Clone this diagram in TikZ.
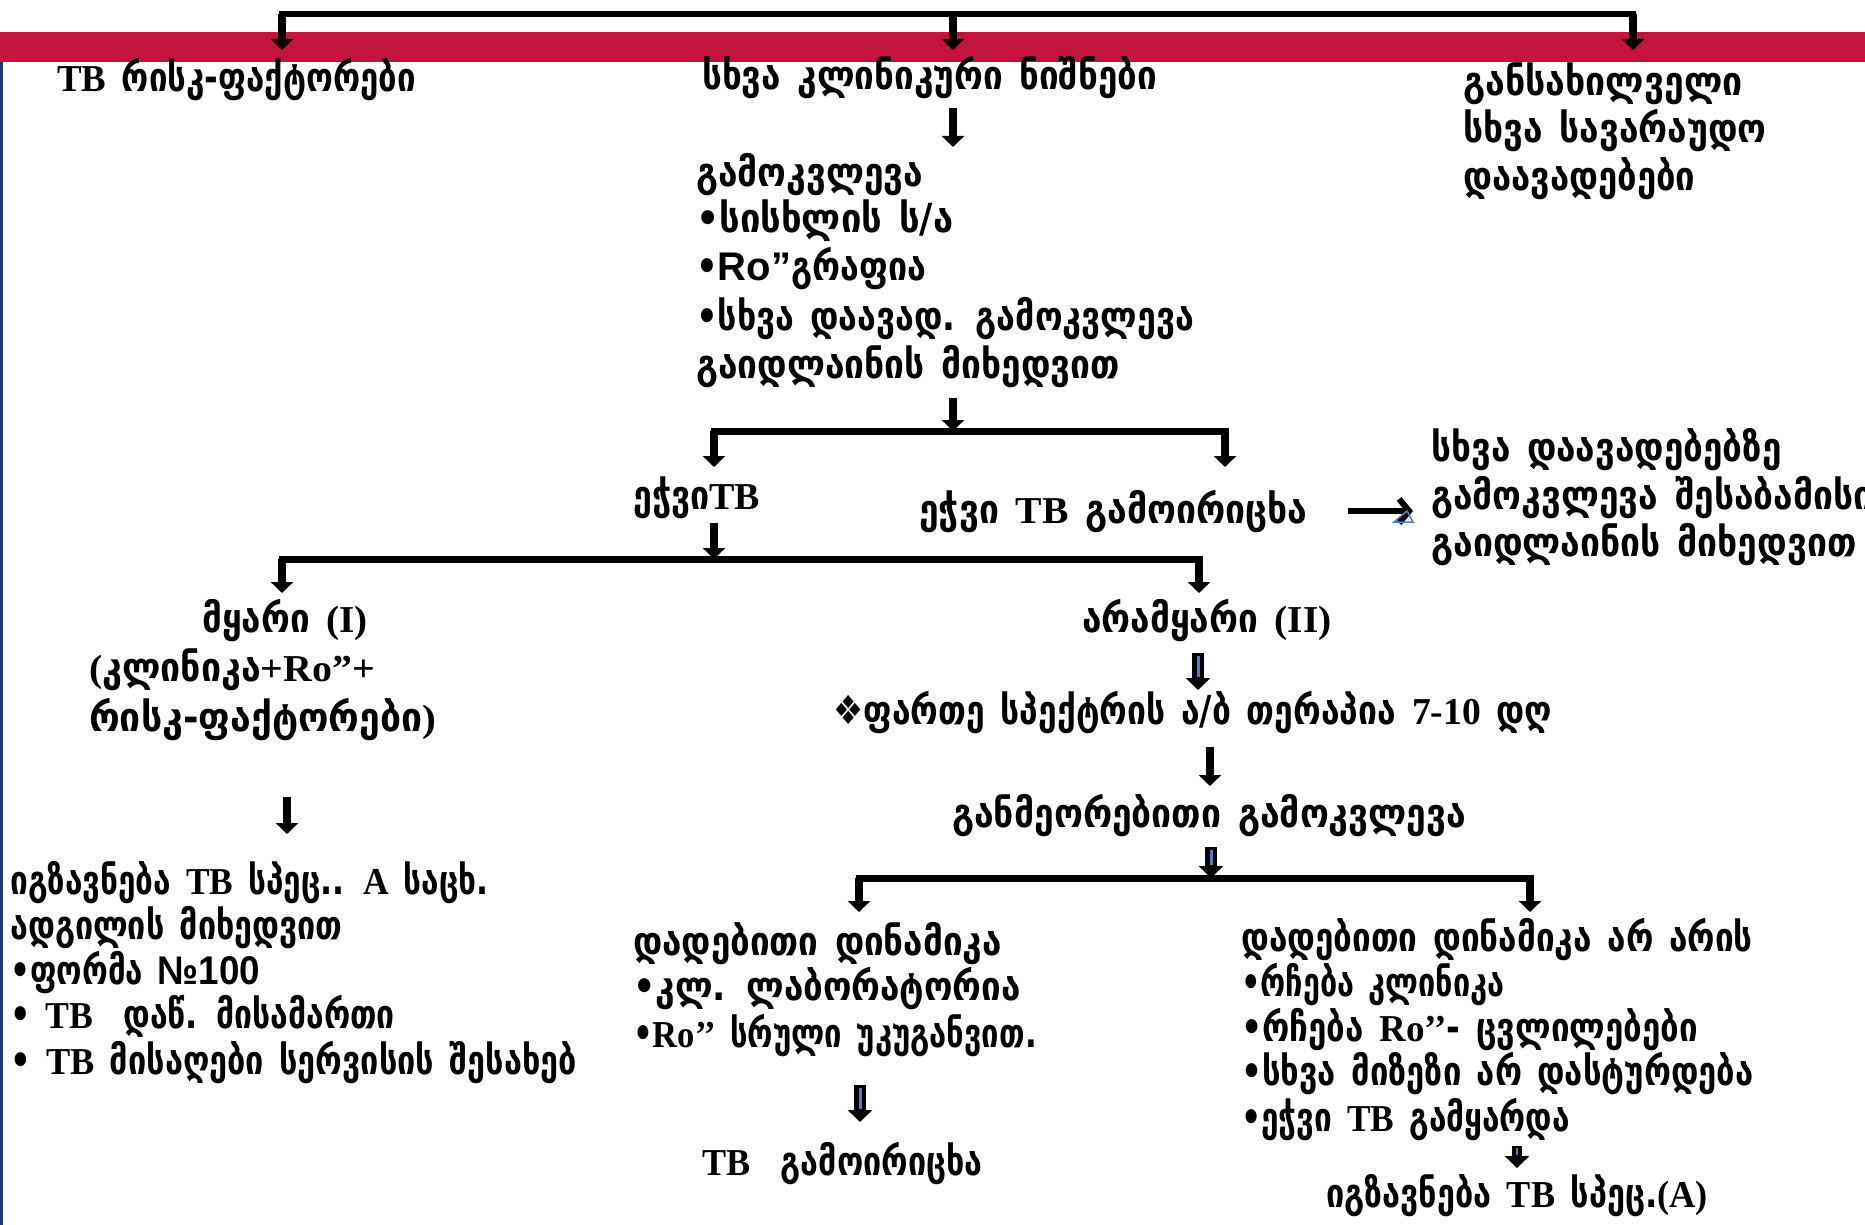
\documentclass[tikz,border=0pt]{standalone}
\usepackage{fontspec}
\usepackage{graphicx}
\setmainfont{Liberation Serif}
\newfontfamily\gf{DejaVu Sans}[FakeStretch=0.85]
\newfontfamily\lf{Liberation Serif}
\newfontfamily\af{Liberation Sans}
\usetikzlibrary{arrows.meta}
\definecolor{bandred}{HTML}{C4133D}
\definecolor{navy}{HTML}{1F3A78}
\definecolor{stripe}{HTML}{4A7FC0}
\newcommand{\tb}[1]{{\lf\bfseries\fontsize{38}{47}\selectfont #1}}
\newcommand{\asf}[1]{{\af\bfseries\fontsize{40}{47}\selectfont #1}}
\newcommand{\hs}[2]{\scalebox{#1}[1]{#2}}
\newcommand{\gsetup}{\gf\bfseries\fontsize{40}{47}\selectfont\setlength{\spaceskip}{16pt plus 2pt minus 2pt}}
\tikzset{
  txt/.style={anchor=base west, inner sep=0pt, font=\gsetup},
  arr/.style={line width=8pt, -{Triangle[width=22pt,length=11pt]}},
  barline/.style={line width=7pt, line cap=rect},
  topbar/.style={line width=6pt, line cap=rect},
  fatarr/.style={line width=12pt, -{Triangle[width=24pt,length=12pt]}},
  stripeline/.style={stripe, line width=3pt, shorten >=13pt, shorten <=3pt},
}
\begin{document}
\begin{tikzpicture}[x=1pt,y=-1pt]
\useasboundingbox (0,0) rectangle (1865,1225);
\clip (0,0) rectangle (1865,1225);
\fill[white] (0,0) rectangle (1865,1225);
% band and left rule
\fill[bandred] (0,32) rectangle (1865,62);
\fill[navy] (0,62) rectangle (3,1225);

% coordinates
\coordinate (t1) at (282,14);
\coordinate (t2) at (953,14);
\coordinate (t3) at (1633,14);
\coordinate (t1e) at (282,50);
\coordinate (t2e) at (953,50);
\coordinate (t3e) at (1633,50);

% texts
\node[txt] (riskf) at (57,92) {\hs{0.97}{\tb{TB} რისკ-ფაქტორები}};
\node[txt] (clin) at (702,90) {\hs{1.03}{სხვა კლინიკური ნიშნები}};
\node[txt] (diffa) at (1463,96) {\hs{1.05}{განსახილველი}};
\node[txt] (diffb) at (1463,143) {\hs{1.04}{სხვა სავარაუდო}};
\node[txt] (diffc) at (1463,191) {\hs{1.02}{დაავადებები}};

\node[txt] (exa) at (696,187) {\hs{1.04}{გამოკვლევა}};
\node[txt] (exb) at (696,233) {\hs{1.07}{•სისხლის ს/ა}};
\node[txt] (exc) at (696,280) {•\asf{Ro”}გრაფია};
\node[txt] (exd) at (696,330) {•სხვა დაავად. გამოკვლევა};
\node[txt] (exe) at (696,378) {\hs{1.04}{გაიდლაინის მიხედვით}};

\node[txt] (susp) at (633,509) {ეჭვი\tb{TB}};
\node[txt] (excl) at (919,523) {\hs{1.045}{ეჭვი \tb{TB} გამოირიცხა}};

\node[txt] (otha) at (1431,461) {\hs{1.035}{სხვა დაავადებებზე}};
\node[txt] (othb) at (1431,509) {\hs{1.04}{გამოკვლევა შესაბამისი}};
\node[txt] (othc) at (1431,556) {\hs{1.045}{გაიდლაინის მიხედვით}};

\node[txt] (stab) at (202,632) {\hs{1.03}{მყარი \tb{(I)}}};
\node[txt] (stabb) at (89,681) {\hs{1.05}{\tb{(}კლინიკა\tb{+Ro”+}}};
\node[txt] (stabc) at (89,731) {\hs{1.1}{რისკ-ფაქტორები\tb{)}}};

\node[txt] (senda) at (10,894) {\hs{0.93}{იგზავნება \tb{TB} სპეც.. \tb{A} საცხ.}};
\node[txt] (sendb) at (10,939) {\hs{0.95}{ადგილის მიხედვით}};
\node[txt] (sendc) at (10,984) {\hs{0.92}{•ფორმა \asf{№100}}};
\node[txt] (sendd) at (10,1028) {\hs{0.94}{• \tb{TB}\ \ დაწ. მისამართი}};
\node[txt] (sende) at (10,1074) {\hs{0.955}{• \tb{TB} მისაღები სერვისის შესახებ}};

\node[txt] (unst) at (1082,632) {\hs{1.035}{არამყარი \tb{(II)}}};
\node[txt] (ther) at (833,724) {\hs{0.99}{❖ფართე სპექტრის ა/ბ თერაპია \tb{7-10} დღ}};
\node[txt] (rep) at (952,827) {\hs{1.045}{განმეორებითი გამოკვლევა}};

\node[txt] (posa) at (633,955) {\hs{1.03}{დადებითი დინამიკა}};
\node[txt] (posb) at (633,1000) {\hs{1.03}{•კლ. ლაბორატორია}};
\node[txt] (posc) at (633,1047) {\hs{0.91}{•\tb{Ro’’} სრული უკუგანვით.}};
\node[txt] (tbex) at (702,1175) {\hs{0.95}{\tb{TB}\ \ გამოირიცხა}};

\node[txt] (nega) at (1241,951) {\hs{0.98}{დადებითი დინამიკა არ არის}};
\node[txt] (negb) at (1241,996) {\hs{0.9}{•რჩება კლინიკა}};
\node[txt] (negc) at (1241,1041) {\hs{0.975}{•რჩება \tb{Ro’’}- ცვლილებები}};
\node[txt] (negd) at (1241,1085) {\hs{0.965}{•სხვა მიზეზი არ დასტურდება}};
\node[txt] (nege) at (1241,1131) {\hs{0.93}{•ეჭვი \tb{TB} გამყარდა}};
\node[txt] (sendA) at (1326,1207) {\hs{0.955}{იგზავნება \tb{TB} სპეც.\tb{(A)}}};

% top connector
\draw[topbar] (t1) -- (t3);
\draw[arr] (t1) -- (t1e);
\draw[arr] (t2) -- (t2e);
\draw[arr] (t3) -- (t3e);

% clinic -> exams
\coordinate (c1s) at (953,108); \coordinate (c1e) at (953,147);
\draw[arr] (c1s) -- (c1e);

% exams -> split
\coordinate (c2s) at (953,398); \coordinate (c2e) at (953,431);
\coordinate (s1l) at (714,431); \coordinate (s1r) at (1225,431);
\coordinate (s1le) at (714,467); \coordinate (s1re) at (1225,467);
\draw[barline] (s1l) -- (s1r);
\draw[arr] (c2s) -- (c2e);
\draw[arr] (s1l) -- (s1le);
\draw[arr] (s1r) -- (s1re);

% excluded -> other diseases
\coordinate (rs) at (1348,511); \coordinate (re) at (1413,511);
\draw[line width=6pt, -{Straight Barb[width=24pt,length=10pt,line width=6pt]}] (rs) -- (re);
\draw[stripe, line width=1.5pt] (1394,522) -- (1413,522) -- (1407,511) -- cycle;

% suspected -> split
\coordinate (c3s) at (714,523); \coordinate (c3e) at (714,559);
\coordinate (s2l) at (282,559); \coordinate (s2r) at (1199,559);
\coordinate (s2le) at (282,593); \coordinate (s2re) at (1199,593);
\draw[barline] (s2l) -- (s2r);
\draw[arr] (c3s) -- (c3e);
\draw[arr] (s2l) -- (s2le);
\draw[arr] (s2r) -- (s2re);

% stable -> send
\coordinate (c4s) at (287,797); \coordinate (c4e) at (287,834);
\draw[arr] (c4s) -- (c4e);

% unstable -> therapy
\coordinate (c5s) at (1198,653); \coordinate (c5e) at (1198,690);
\draw[fatarr] (c5s) -- (c5e);
\draw[stripeline] (c5s) -- (c5e);

% therapy -> repeat
\coordinate (c6s) at (1210,747); \coordinate (c6e) at (1210,786);
\draw[arr] (c6s) -- (c6e);

% repeat -> split
\coordinate (c7s) at (1211,847); \coordinate (c7e) at (1211,878);
\coordinate (s3l) at (859,878); \coordinate (s3r) at (1530,878);
\coordinate (s3le) at (859,912); \coordinate (s3re) at (1530,912);
\draw[barline] (s3l) -- (s3r);
\draw[arr] (s3l) -- (s3le);
\draw[arr] (s3r) -- (s3re);
\draw[fatarr] (c7s) -- (c7e);
\draw[stripeline] (c7s) -- (c7e);

% positive -> TB excluded
\coordinate (c8s) at (860,1085); \coordinate (c8e) at (860,1122);
\draw[fatarr] (c8s) -- (c8e);
\draw[stripeline] (c8s) -- (c8e);

% negative -> send A
\coordinate (c9s) at (1517,1146); \coordinate (c9e) at (1517,1168);
\draw[line width=10pt, -{Triangle[width=24pt,length=12pt]}] (c9s) -- (c9e);
\draw[stripe, line width=2pt] (1517,1148) -- (1517,1155);
\end{tikzpicture}
\end{document}
